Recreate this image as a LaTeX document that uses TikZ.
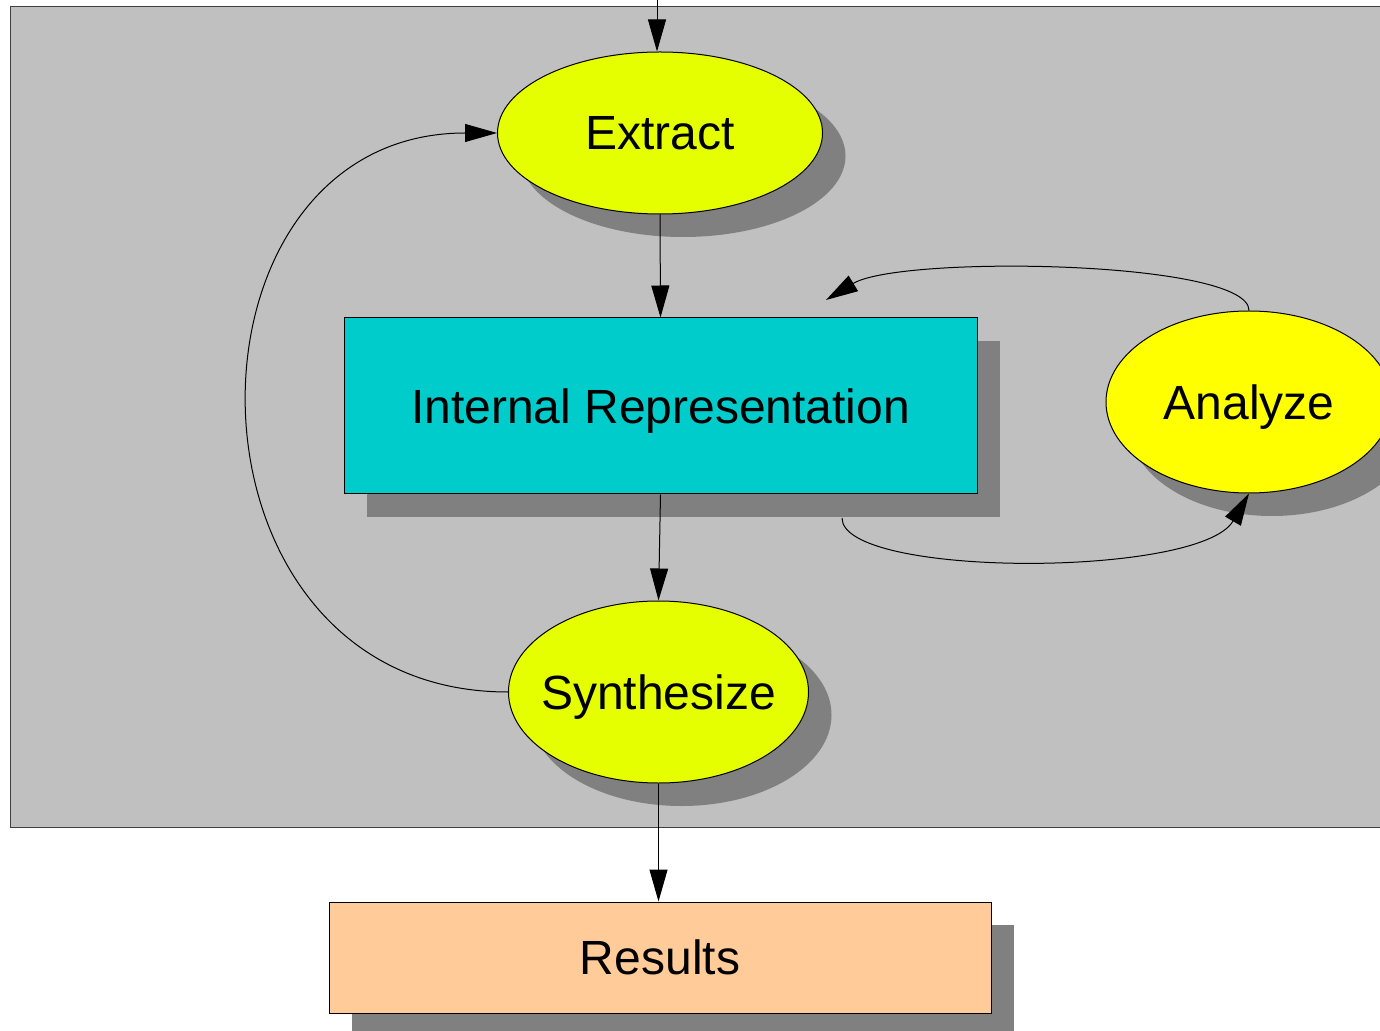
\documentclass[tikz,border=0pt]{standalone}
\usepackage{fontspec}
\setmainfont{Liberation Sans}
\usetikzlibrary{shapes.geometric,shadows,arrows.meta}

\definecolor{panelgray}{HTML}{C0C0C0}
\definecolor{shadowgray}{HTML}{808080}
\definecolor{lime}{HTML}{E6FF00}
\definecolor{lemon}{HTML}{FFFF00}
\definecolor{teal}{HTML}{00CCCC}
\definecolor{peach}{HTML}{FFCC99}

\begin{document}
\begin{tikzpicture}[x=0.5pt,y=-0.5pt,
  flow/.style={-{Triangle[length=16pt,width=9pt]},line width=0.5pt},
  shade/.style={drop shadow={shadow xshift=11.5pt,shadow yshift=-11.5pt,fill=shadowgray,opacity=1}},
  oval/.style={ellipse,draw,line width=0.5pt,shade,inner sep=0pt,label={[font=\fontsize{24}{28}\selectfont,text depth=0pt]center:#1}},
  block/.style={rectangle,draw,line width=0.5pt,shade,font=\fontsize{24}{28}\selectfont,text depth=0pt}]
  \useasboundingbox (0,0) rectangle (1380,1031);
  \clip (0,0) rectangle (1380,1031);
  % Draw background panel
  \fill[panelgray,draw=black!75,line width=0.5pt] (10,7) rectangle (1400,827);
  % Nodes
  \node[oval=Extract,fill=lime,minimum width=162.5pt,minimum height=81pt] (extract) at (660,133) {};
  \node[block,fill=teal,minimum width=316.5pt,minimum height=88pt] (ir) at (660.5,406) {Internal Representation};
  \node[oval=Analyze,fill=lemon,minimum width=143pt,minimum height=91pt] (analyze) at (1249,402) {};
  \node[oval=Synthesize,fill=lime,minimum width=150pt,minimum height=91pt] (synth) at (658.5,692) {};
  \node[block,fill=peach,minimum width=331pt,minimum height=55.5pt] (results) at (660,957.5) {Results};
  % Connectors
  \coordinate (input) at (657,0);
  \coordinate (irin) at (826,300);
  \coordinate (irout) at (842,518);
  \draw[flow] (input) -- (input |- extract.north);
  \draw[flow] (extract.south) -- (ir.north);
  \draw[flow] (ir.south) -- (synth.north);
  \draw[flow] (synth.south) -- (synth.south |- results.north);
  \draw[flow] (synth.west) .. controls (165,692) and (165,133) .. (extract.west);
  \draw[flow] (analyze.north) .. controls (1249,260) and (900,255) .. (irin);
  \draw[flow] (irout) .. controls (842,578) and (1200,578) .. (analyze.south);
\end{tikzpicture}
\end{document}
